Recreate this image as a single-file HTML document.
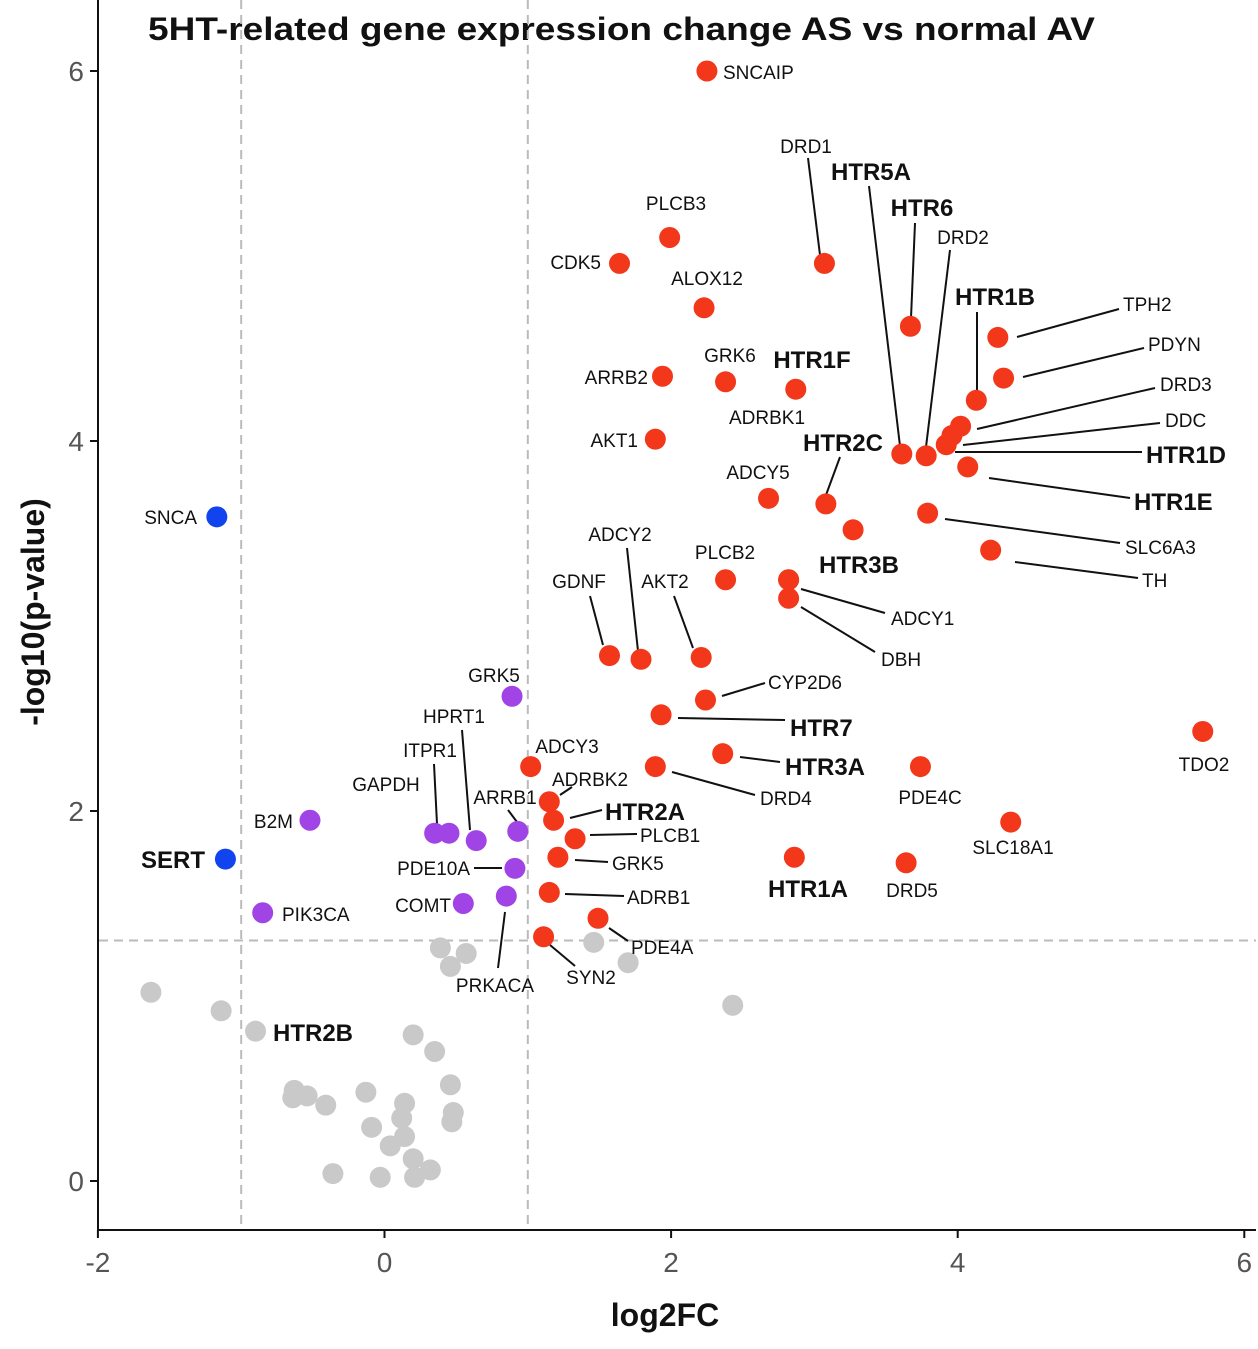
<!DOCTYPE html>
<html><head><meta charset="utf-8"><style>
body{margin:0;background:#fff}
svg{display:block;font-family:"Liberation Sans",Arial,sans-serif}
</style></head><body>
<svg id="chart" width="1258" height="1349" viewBox="0 0 1258 1349">
<text x="148" y="40" textLength="947" lengthAdjust="spacingAndGlyphs" font-size="32" font-weight="bold" fill="#111">5HT-related gene expression change AS vs normal AV</text>
<g id="grid"></g><g id="axes"></g><g id="lines"></g><g id="pts"></g><g id="labels"></g>
<text x="665" y="1326" text-anchor="middle" font-size="32" font-weight="bold" fill="#111">log2FC</text>
<text transform="translate(44,612) rotate(-90)" text-anchor="middle" font-size="32" font-weight="bold" fill="#111">-log10(p-value)</text>
</svg>
<script>
const genes=["SNCAIP","CDK5","PLCB3","ALOX12","DRD1","ARRB2","GRK6","HTR1F","AKT1","HTR6","TPH2","PDYN","HTR1B","DRD3","DDC","HTR1D","HTR5A","DRD2","HTR1E","ADCY5","HTR2C","ADRBK1","SLC6A3","TH","PLCB2","HTR3B","ADCY1","GDNF","ADCY2","AKT2","CYP2D6","HTR7","HTR3A","DRD4","TDO2","PDE4C","SLC18A1","HTR1A","DRD5","ADCY3","ADRBK2","HTR2A","PLCB1","GRK5","ADRB1","PDE4A","SYN2","DBH",
"GRK5b","B2M","ITPR1","GAPDH","HPRT1","ARRB1","PDE10A","COMT","PRKACA","PIK3CA","SNCA","SERT"];
const log2fc=[2.25,1.64,1.99,2.23,3.07,1.94,2.38,2.87,1.89,3.67,4.28,4.32,4.13,4.02,3.96,3.92,3.61,3.78,4.07,2.68,3.08,3.27,3.79,4.23,2.38,2.82,2.82,1.57,1.79,2.21,2.24,1.93,2.36,1.89,5.71,3.74,4.37,2.86,3.64,1.02,1.15,1.18,1.33,1.21,1.15,1.49,1.11,2.82,
0.89,-0.52,0.35,0.45,0.64,0.93,0.91,0.55,0.85,-0.85,-1.17,-1.11];
const negLogP=[6.0,4.96,5.10,4.72,4.96,4.35,4.32,4.28,4.01,4.62,4.56,4.34,4.22,4.08,4.03,3.98,3.93,3.92,3.86,3.69,3.66,3.52,3.61,3.41,3.25,3.25,3.25,2.84,2.82,2.83,2.60,2.52,2.31,2.24,2.43,2.24,1.94,1.75,1.72,2.24,2.05,1.95,1.85,1.75,1.56,1.42,1.32,3.15,
2.62,1.95,1.88,1.88,1.84,1.89,1.69,1.50,1.54,1.45,3.59,1.74];
const groups=["r","r","r","r","r","r","r","r","r","r","r","r","r","r","r","r","r","r","r","r","r","r","r","r","r","r","r","r","r","r","r","r","r","r","r","r","r","r","r","r","r","r","r","r","r","r","r","r",
"p","p","p","p","p","p","p","p","p","p","b","b"];
const grayX=[-1.63,-1.14,-0.90,0.39,0.57,0.46,1.46,1.70,2.43,0.20,0.35,-0.63,-0.54,-0.64,-0.41,-0.13,0.14,0.46,0.48,0.47,-0.09,0.12,0.14,0.04,0.20,-0.36,-0.03,0.21,0.32];
const grayY=[1.02,0.92,0.81,1.26,1.23,1.16,1.29,1.18,0.95,0.79,0.70,0.49,0.46,0.45,0.41,0.48,0.42,0.52,0.37,0.32,0.29,0.34,0.24,0.19,0.12,0.04,0.02,0.02,0.06];
const xTicks=[-2,0,2,4,6];
const yTicks=[0,2,4,6];
const fcCut=[-1,1], pCut=1.3;

const X=v=>384.5+v*143.3, Y=v=>1181-v*185;
const NS="http://www.w3.org/2000/svg";
function mk(tag,attrs,parent,txt){const e=document.createElementNS(NS,tag);for(const k in attrs)e.setAttribute(k,attrs[k]);if(txt!==undefined)e.textContent=txt;document.getElementById(parent).appendChild(e);return e;}
let e=mk("line",{x1:98,y1:0,x2:98,y2:1231,stroke:"#111","stroke-width":2},"axes");


e=mk("line",{x1:97,y1:1230,x2:1256,y2:1230,stroke:"#111","stroke-width":2},"axes");


xTicks.forEach(t=>{mk("line",{x1:X(t),y1:1230,x2:X(t),y2:1238,stroke:"#111","stroke-width":2},"axes");
 const tx=mk("text",{x:X(t),y:1272,"text-anchor":"middle","font-size":28,fill:"#555"},"axes",String(t));
 
 });
yTicks.forEach(t=>{mk("line",{x1:90,y1:Y(t),x2:98,y2:Y(t),stroke:"#111","stroke-width":2},"axes");
 const tx=mk("text",{x:84,y:Y(t)+10,"text-anchor":"end","font-size":28,fill:"#555"},"axes",String(t));
 
 });
fcCut.forEach(c=>{const l=mk("line",{x1:X(c),y1:0,x2:X(c),y2:1230,stroke:"#bbb","stroke-width":2,"stroke-dasharray":"9 6"},"grid");
 
 });
e=mk("line",{x1:99,y1:Y(pCut),x2:1256,y2:Y(pCut),stroke:"#bbb","stroke-width":2,"stroke-dasharray":"9 6"},"grid");


grayX.forEach((v,i)=>{const c=mk("circle",{cx:X(v),cy:Y(grayY[i]),r:10.5,fill:"#c9c9c9"},"pts");
 
 });
const col={r:"#f2371a",p:"#a144e6",b:"#1144ee"};
log2fc.forEach((v,i)=>{const c=mk("circle",{cx:X(v),cy:Y(negLogP[i]),r:10.5,fill:col[groups[i]]},"pts");
 
 });
const L=[["SNCAIP",723,79,"start",0],["DRD1",806,153,"middle",0,[820,255,808,158]],["HTR5A",871,180,"middle",1,[900,446,869,186]],
["HTR6",922,216,"middle",1,[911,318,915,223]],["DRD2",963,244,"middle",0,[926,447,950,250]],["PLCB3",676,210,"middle",0],
["CDK5",601,269,"end",0],["ALOX12",707,285,"middle",0],["HTR1B",995,305,"middle",1,[977,392,977,312]],
["TPH2",1123,311,"start",0,[1017,337,1119,309]],["PDYN",1148,351,"start",0,[1023,377,1144,348]],["DRD3",1160,391,"start",0,[977,429,1155,388]],
["DDC",1165,427,"start",0,[963,445,1160,423]],["HTR1D",1146,463,"start",1,[955,452,1142,452]],["HTR1E",1134,510,"start",1,[989,478,1130,498]],
["ARRB2",648,384,"end",0],["GRK6",730,362,"middle",0],["HTR1F",812,368,"middle",1],["ADRBK1",767,424,"middle",0],["AKT1",638,447,"end",0],
["HTR2C",843,451,"middle",1,[826,495,840,457]],["ADCY5",758,479,"middle",0],["SLC6A3",1125,554,"start",0,[945,519,1120,543]],
["TH",1142,587,"start",0,[1015,562,1138,578]],["ADCY2",620,541,"middle",0,[638,651,627,548]],["PLCB2",725,559,"middle",0],
["HTR3B",859,573,"middle",1],["GDNF",579,588,"middle",0,[603,645,590,596]],["AKT2",665,588,"middle",0,[693,648,674,596]],
["ADCY1",891,625,"start",0,[801,589,885,613]],["DBH",881,666,"start",0,[801,607,875,652]],["CYP2D6",768,689,"start",0,[722,696,765,683]],
["HTR7",790,736,"start",1,[678,718,785,720]],["HTR3A",785,775,"start",1,[740,757,780,762]],["DRD4",760,805,"start",0,[672,772,755,795]],
["TDO2",1204,771,"middle",0],["PDE4C",930,804,"middle",0],["SLC18A1",1013,854,"middle",0],["HTR1A",808,897,"middle",1],["DRD5",912,897,"middle",0],
["GRK5",494,682,"middle",0],["HPRT1",454,723,"middle",0,[470,830,462,730]],["ITPR1",430,757,"middle",0,[437,824,434,764]],
["ADCY3",567,753,"middle",0],["GAPDH",386,791,"middle",0],["ADRBK2",552,786,"start",0,[560,795,572,787]],["ARRB1",505,804,"middle",0,[517,822,508,810]],
["HTR2A",605,820,"start",1,[570,818,602,810]],["B2M",293,828,"end",0],["PLCB1",640,842,"start",0,[590,835,637,834]],
["GRK5",612,870,"start",0,[575,860,608,862]],["PDE10A",470,875,"end",0,[474,868,502,868]],["SERT",205,868,"end",1],
["ADRB1",627,904,"start",0,[565,894,624,896]],["COMT",451,912,"end",0],["PIK3CA",282,921,"start",0],["PDE4A",631,954,"start",0,[609,928,628,941]],
["SYN2",591,984,"middle",0,[550,945,575,966]],["PRKACA",495,992,"middle",0,[505,912,498,968]],["HTR2B",273,1041,"start",1],["SNCA",197,524,"end",0]];
L.forEach(a=>{if(a[5]){const s=a[5];mk("line",{x1:s[0],y1:s[1],x2:s[2],y2:s[3],stroke:"#111","stroke-width":2},"lines");}
 const t=mk("text",{x:a[1],y:a[2],"text-anchor":a[3],"font-size":a[4]?24:19,"font-weight":a[4]?"bold":"normal",fill:"#111"},"labels",a[0]);
 
 });
</script>
</body></html>
